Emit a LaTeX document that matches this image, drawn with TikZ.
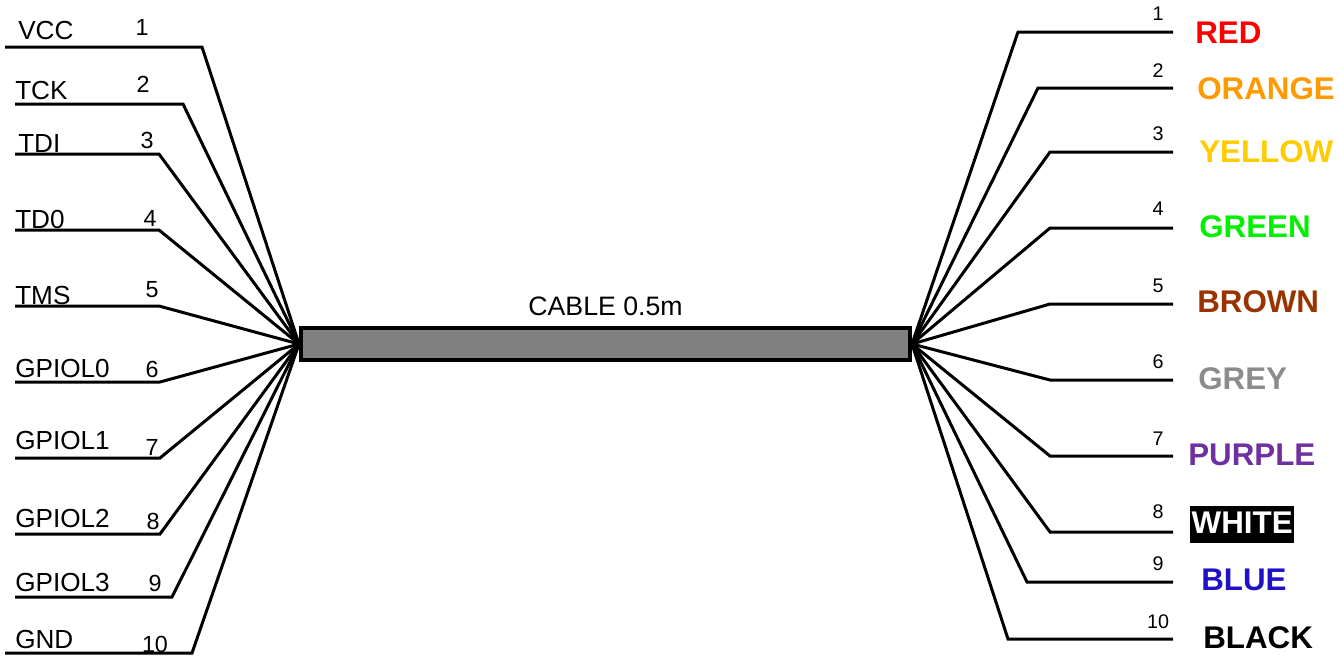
\documentclass[tikz,border=0pt]{standalone}
\usepackage{fontspec}
\setmainfont{Liberation Sans}
\usepackage{xcolor}
\usetikzlibrary{positioning}
\definecolor{cablegrey}{HTML}{808080}
\definecolor{wirered}{HTML}{FF0000}
\definecolor{wireorange}{HTML}{FF9900}
\definecolor{wireyellow}{HTML}{FFCC00}
\definecolor{wiregreen}{HTML}{00F000}
\definecolor{wirebrown}{HTML}{993300}
\definecolor{wiregrey}{HTML}{8C8C8C}
\definecolor{wirepurple}{HTML}{7030A0}
\definecolor{wireblue}{HTML}{2010C8}
\tikzset{
  wire/.style={line width=2.25pt},
  cable/.style={draw, line width=3pt, fill=cablegrey, inner sep=0pt,
    minimum width=456.75pt, minimum height=24pt},
  pinlabel/.style={anchor=base west, inner sep=0pt, font=\fontsize{19.6}{21}\selectfont},
  pinnum/.style={anchor=base, inner sep=0pt, font=\fontsize{17.5}{19}\selectfont},
  wirenum/.style={anchor=base, inner sep=0pt, font=\fontsize{14.8}{16}\selectfont},
  colourname/.style={anchor=base west, inner sep=0pt, font=\fontsize{23.5}{26}\selectfont\bfseries}
}

\begin{document}
\begin{tikzpicture}[x=0.75pt,y=-0.75pt]
    \useasboundingbox (0,0) rectangle (1340,661);

    % Cable
    \node[cable] (cable) at (605.5,344) {};
    \node[above=7.5pt of cable, inner sep=0pt, font=\fontsize{20}{22}\selectfont] (cablename) {CABLE 0.5m};

    % Connector pins (left)
    \coordinate (vcc a) at (5,47);     \coordinate (vcc b) at (202,47);
    \coordinate (tck a) at (15,104);   \coordinate (tck b) at (183,104);
    \coordinate (tdi a) at (15,154);   \coordinate (tdi b) at (159,154);
    \coordinate (tdo a) at (15,230);   \coordinate (tdo b) at (159,230);
    \coordinate (tms a) at (15,306);   \coordinate (tms b) at (159,306);
    \coordinate (gp0 a) at (15,382);   \coordinate (gp0 b) at (160,382);
    \coordinate (gp1 a) at (15,458);   \coordinate (gp1 b) at (160,458);
    \coordinate (gp2 a) at (15,534);   \coordinate (gp2 b) at (160,534);
    \coordinate (gp3 a) at (15,597);   \coordinate (gp3 b) at (172,597);
    \coordinate (gnd a) at (5,653);    \coordinate (gnd b) at (192,653);

    \node[pinlabel] (vcc) at (18,39) {VCC};      \node[pinnum] (vcc num) at (142,35) {1};
    \node[pinlabel] (tck) at (15,99) {TCK};      \node[pinnum] (tck num) at (143,92) {2};
    \node[pinlabel] (tdi) at (18,152) {TDI};     \node[pinnum] (tdi num) at (147,148) {3};
    \node[pinlabel] (tdo) at (15,228) {TD0};     \node[pinnum] (tdo num) at (150,226) {4};
    \node[pinlabel] (tms) at (15,304) {TMS};     \node[pinnum] (tms num) at (152,297) {5};
    \node[pinlabel] (gp0) at (15,377) {GPIOL0};  \node[pinnum] (gp0 num) at (152,377) {6};
    \node[pinlabel] (gp1) at (15,449) {GPIOL1};  \node[pinnum] (gp1 num) at (152,455) {7};
    \node[pinlabel] (gp2) at (15,527) {GPIOL2};  \node[pinnum] (gp2 num) at (153,529) {8};
    \node[pinlabel] (gp3) at (15,591) {GPIOL3};  \node[pinnum] (gp3 num) at (155,591) {9};
    \node[pinlabel] (gnd) at (15,648) {GND};     \node[pinnum] (gnd num) at (155,652) {10};

    \draw[wire] (vcc a) -- (vcc b) -- (cable.west);
    \draw[wire] (tck a) -- (tck b) -- (cable.west);
    \draw[wire] (tdi a) -- (tdi b) -- (cable.west);
    \draw[wire] (tdo a) -- (tdo b) -- (cable.west);
    \draw[wire] (tms a) -- (tms b) -- (cable.west);
    \draw[wire] (gp0 a) -- (gp0 b) -- (cable.west);
    \draw[wire] (gp1 a) -- (gp1 b) -- (cable.west);
    \draw[wire] (gp2 a) -- (gp2 b) -- (cable.west);
    \draw[wire] (gp3 a) -- (gp3 b) -- (cable.west);
    \draw[wire] (gnd a) -- (gnd b) -- (cable.west);

    % Wire colours (right)
    \coordinate (red b) at (1018,32);     \coordinate (red a) at (1173,32);
    \coordinate (orange b) at (1038,88);  \coordinate (orange a) at (1173,88);
    \coordinate (yellow b) at (1050,152); \coordinate (yellow a) at (1173,152);
    \coordinate (green b) at (1050,228);  \coordinate (green a) at (1173,228);
    \coordinate (brown b) at (1050,304);  \coordinate (brown a) at (1173,304);
    \coordinate (grey b) at (1050,380);   \coordinate (grey a) at (1173,380);
    \coordinate (purple b) at (1050,456); \coordinate (purple a) at (1173,456);
    \coordinate (white b) at (1050,532);  \coordinate (white a) at (1173,532);
    \coordinate (blue b) at (1027,582);   \coordinate (blue a) at (1173,582);
    \coordinate (black b) at (1008,639);  \coordinate (black a) at (1173,639);

    \node[wirenum] (red num) at (1158,20) {1};
    \node[wirenum] (orange num) at (1158,77) {2};
    \node[wirenum] (yellow num) at (1158,140) {3};
    \node[wirenum] (green num) at (1158,215) {4};
    \node[wirenum] (brown num) at (1158,292) {5};
    \node[wirenum] (grey num) at (1158,368) {6};
    \node[wirenum] (purple num) at (1158,445) {7};
    \node[wirenum] (white num) at (1158,518) {8};
    \node[wirenum] (blue num) at (1158,570) {9};
    \node[wirenum] (black num) at (1158,628) {10};

    \node[colourname, wirered] (red) at (1195,43) {RED};
    \node[colourname, wireorange] (orange) at (1197,99) {ORANGE};
    \node[colourname, wireyellow] (yellow) at (1199,162) {YELLOW};
    \node[colourname, wiregreen] (green) at (1199,237) {GREEN};
    \node[colourname, wirebrown] (brown) at (1197,312) {BROWN};
    \node[colourname, wiregrey] (grey) at (1198,389) {GREY};
    \node[colourname, wirepurple] (purple) at (1188,465) {PURPLE};
    \node[colourname, white, fill=black, inner xsep=1.1pt, text height=20.25pt, text depth=7.5pt] (white) at (1190,533) {WHITE};
    \node[colourname, wireblue] (blue) at (1201,590) {BLUE};
    \node[colourname, black] (black) at (1203,648) {BLACK};

    \draw[wire] (cable.east) -- (red b) -- (red a);
    \draw[wire] (cable.east) -- (orange b) -- (orange a);
    \draw[wire] (cable.east) -- (yellow b) -- (yellow a);
    \draw[wire] (cable.east) -- (green b) -- (green a);
    \draw[wire] (cable.east) -- (brown b) -- (brown a);
    \draw[wire] (cable.east) -- (grey b) -- (grey a);
    \draw[wire] (cable.east) -- (purple b) -- (purple a);
    \draw[wire] (cable.east) -- (white b) -- (white a);
    \draw[wire] (cable.east) -- (blue b) -- (blue a);
    \draw[wire] (cable.east) -- (black b) -- (black a);
\end{tikzpicture}
\end{document}
